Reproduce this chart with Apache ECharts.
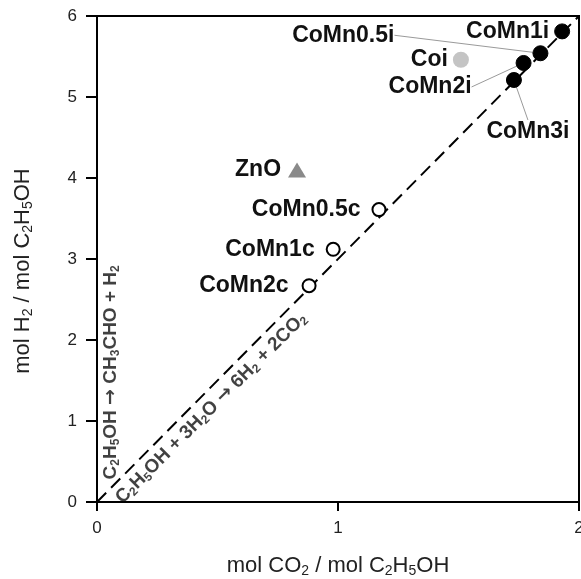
<!DOCTYPE html>
<html><head><meta charset="utf-8">
<script src="https://cdn.jsdelivr.net/npm/echarts@6/dist/echarts.min.js"></script>
<style>html,body{margin:0;padding:0;background:#fff}#c{width:581px;height:579px}</style>
</head><body><div id="c"></div>
<script>
// ---- data ----
const xTicks = [0, 1, 2];
const yTicks = [0, 1, 2, 3, 4, 5, 6];
const impNames = ['CoMn1i', 'CoMn0.5i', 'CoMn2i', 'CoMn3i'];
const impX = [1.93, 1.84, 1.77, 1.73];
const impY = [5.81, 5.54, 5.42, 5.21];
const calNames = ['CoMn0.5c', 'CoMn1c', 'CoMn2c'];
const calX = [1.17, 0.98, 0.88];
const calY = [3.61, 3.12, 2.67];
const coiNames = ['Coi'];
const coiX = [1.51];
const coiY = [5.46];
const znoNames = ['ZnO'];
const znoX = [0.83];
const znoY = [4.10];
const reformX = [0, 2];          // stoichiometric line H2/CO2 = 3
const reformY = [0, 6];
const rxn1Text = 'C{s|2}H{s|5}OH {a|→} CH{s|3}CHO + H{s|2}';
const rxn1At = [0, 1.6];
const rxn2Text = 'C{s|2}H{s|5}OH + 3H{s|2}O {a|→} 6H{s|2} + 2CO{s|2}';
const rxn2At = [0.43, 1.29];

// ---- label placement (styling only) ----
const labelPlace = {
  'CoMn1i':   {position: 'left', distance: 5},
  'CoMn0.5i': {position: 'left', distance: 5, dx: -133, dy: -18, line: true},
  'CoMn2i':   {position: 'left', distance: 5, dx: -39, dy: 24, line: true},
  'CoMn3i':   {position: 'bottom', distance: 5, dx: 14, dy: 27, line: true},
  'Coi':      {position: 'left', distance: 5},
  'ZnO':      {position: 'left', distance: 7},
  'CoMn0.5c': {position: 'left', distance: 11},
  'CoMn1c':   {position: 'left', distance: 11},
  'CoMn2c':   {position: 'left', distance: 13}
};
const FONT = '"Liberation Sans", Arial, Helvetica, sans-serif';
const labelStyle = {show: true, formatter: '{b}', fontFamily: FONT, fontWeight: 'bold', fontSize: 23, color: '#111'};

function build(names, xs, ys) {
  return names.map((n, i) => {
    const p = labelPlace[n];
    const item = {name: n, value: [xs[i], ys[i]], label: {position: p.position, distance: p.distance}};
    if (p.line) item.labelLine = {show: true, lineStyle: {color: '#9a9a9a', width: 1}};
    return item;
  });
}
function layoutFor(names) {
  return function (params) {
    const p = labelPlace[names[params.dataIndex]];
    return {dx: p.dx || 0, dy: p.dy || 0};
  };
}
const subRich = {
  s: {fontSize: 12, fontWeight: 'bold', fontFamily: FONT, color: '#111', padding: [9, 0, 0, 0]},
  a: {fontSize: 19, fontWeight: 'bold', fontFamily: '"DejaVu Sans", sans-serif', color: '#111'}
};
const nameRich = {s: {fontSize: 14, fontFamily: FONT, color: '#222', padding: [10, 0, 0, 0]}};

const chart = echarts.init(document.getElementById('c'), null, {renderer: 'canvas'});
chart.setOption({
  animation: false,
  backgroundColor: '#fff',
  grid: {left: 97, right: 2, top: 16, bottom: 77, containLabel: false, outerBoundsMode: 'none',
         show: true, borderColor: '#000', borderWidth: 2, backgroundColor: 'transparent'},
  xAxis: {
    type: 'value', min: xTicks[0], max: xTicks[xTicks.length - 1], interval: 1,
    name: 'mol CO{s|2} / mol C{s|2}H{s|5}OH', nameLocation: 'middle', nameGap: 52,
    nameTextStyle: {fontFamily: FONT, fontSize: 22, color: '#222', rich: nameRich},
    axisLine: {show: true, lineStyle: {color: '#000', width: 2}},
    axisTick: {show: true, length: 9, lineStyle: {color: '#000', width: 2}},
    axisLabel: {fontFamily: FONT, fontSize: 17, color: '#222', margin: 18},
    splitLine: {show: false}
  },
  yAxis: {
    type: 'value', min: yTicks[0], max: yTicks[yTicks.length - 1], interval: 1,
    name: 'mol H{s|2} / mol C{s|2}H{s|5}OH', nameLocation: 'middle', nameGap: 62,
    nameTextStyle: {fontFamily: FONT, fontSize: 22, color: '#222', rich: nameRich, padding: [0, 24, 0, 0]},
    axisLine: {show: true, lineStyle: {color: '#000', width: 2}},
    axisTick: {show: true, length: 11, lineStyle: {color: '#000', width: 2}},
    axisLabel: {fontFamily: FONT, fontSize: 17, color: '#222', margin: 20},
    splitLine: {show: false}
  },
  series: [
    {
      type: 'line', data: reformX.map((x, i) => [x, reformY[i]]), showSymbol: false, silent: true,
      lineStyle: {color: '#000', width: 2, type: [13, 7]}, z: 1
    },
    {
      type: 'scatter', data: build(impNames, impX, impY), symbol: 'circle', symbolSize: 15,
      itemStyle: {color: '#000', borderColor: '#000', borderWidth: 1, opacity: 1},
      label: labelStyle, labelLayout: layoutFor(impNames), z: 3
    },
    {
      type: 'scatter', data: build(calNames, calX, calY), symbol: 'circle', symbolSize: 13,
      itemStyle: {color: '#fff', borderColor: '#000', borderWidth: 2, opacity: 1},
      label: labelStyle, labelLayout: layoutFor(calNames), z: 3
    },
    {
      type: 'scatter', data: build(coiNames, coiX, coiY), symbol: 'circle', symbolSize: 16,
      itemStyle: {color: '#c4c4c4', opacity: 1},
      label: labelStyle, labelLayout: layoutFor(coiNames), z: 3
    },
    {
      type: 'scatter', data: build(znoNames, znoX, znoY), symbol: 'triangle', symbolSize: [18, 15],
      itemStyle: {color: '#8a8a8a', opacity: 1},
      label: labelStyle, labelLayout: layoutFor(znoNames), z: 3
    },
    {
      type: 'scatter', silent: true, symbolSize: 0.01, itemStyle: {color: 'transparent'},
      data: [{value: rxn1At}],
      label: {show: true, position: 'inside', rotate: 90, offset: [0, 14], formatter: rxn1Text,
              fontFamily: FONT, fontWeight: 'bold', fontSize: 19, color: '#111', rich: subRich},
      z: 4
    },
    {
      type: 'scatter', silent: true, symbolSize: 0.01, itemStyle: {color: 'transparent'},
      data: [{value: rxn2At}],
      label: {show: true, position: 'inside', rotate: 45, offset: [0, 15], formatter: rxn2Text,
              fontFamily: FONT, fontWeight: 'bold', fontSize: 19, color: '#111', rich: subRich},
      z: 4
    }
  ]
});
</script>
</body></html>
